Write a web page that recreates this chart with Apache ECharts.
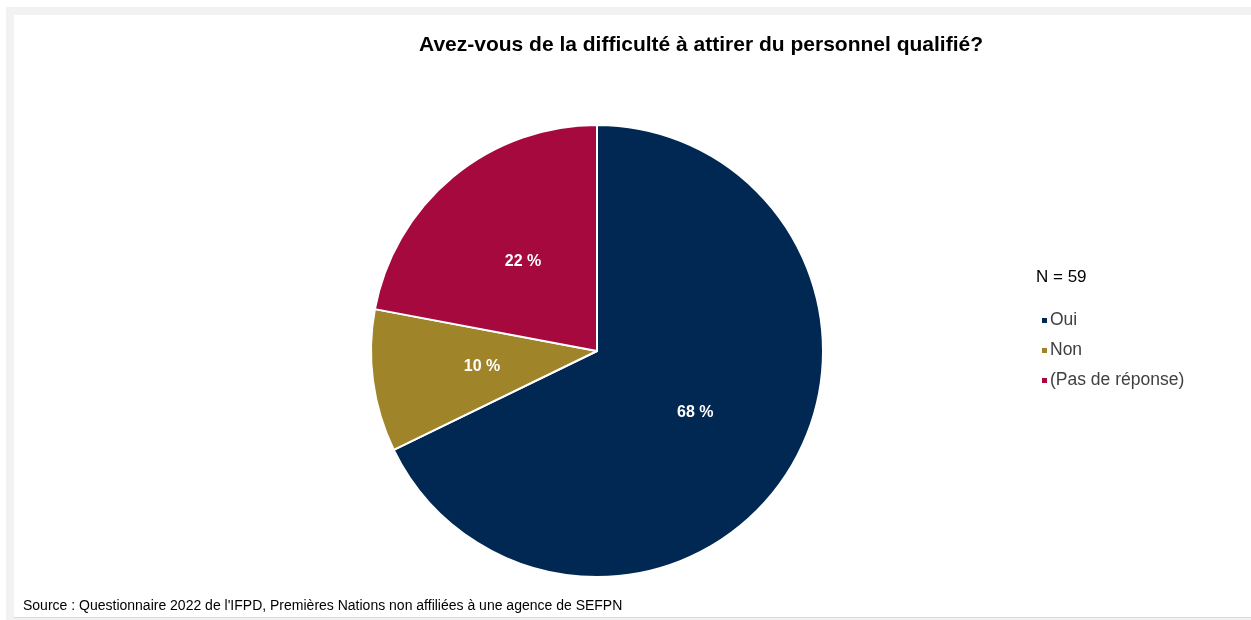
<!DOCTYPE html>
<html lang="fr">
<head>
<meta charset="utf-8">
<title>Difficulté à attirer du personnel qualifié</title>
<script src="https://cdn.jsdelivr.net/npm/echarts@6/dist/echarts.min.js"></script>
<style>
  html, body { margin: 0; padding: 0; background: #ffffff; }
  #frame {
    position: absolute; left: 6px; top: 7px; width: 1245px; height: 613px;
    background: #f2f2f2;
  }
  #chart {
    position: absolute; left: 14px; top: 15px; width: 1237px; height: 602px;
    background: #ffffff; border-bottom: 1px solid #d9d9d9;
  }
</style>
</head>
<body>
<div id="frame"></div>
<div id="chart"></div>
<script>
// Réponses au questionnaire (N = 59)
const categories = ['Oui', 'Non', '(Pas de réponse)'];
const counts = [40, 6, 13];
const colors = ['#012852', '#9F842A', '#A5093E'];
const titleText = 'Avez-vous de la difficulté à attirer du personnel qualifié?';
const sampleText = 'N = 59';
const sourceText = "Source : Questionnaire 2022 de l'IFPD, Premières Nations non affiliées à une agence de SEFPN";

const chart = echarts.init(document.getElementById('chart'));
const font = '"Liberation Sans", Arial, sans-serif';

chart.setOption({
  animation: false,
  textStyle: { fontFamily: font },
  title: [
    {
      text: titleText,
      left: 682, top: 15, textAlign: 'center',
      textStyle: { fontFamily: font, fontSize: 21, fontWeight: 'bold', color: '#000000' }
    },
    {
      text: sampleText,
      left: 1017, top: 249,
      textStyle: { fontFamily: font, fontSize: 17, fontWeight: 'normal', color: '#000000' }
    },
    {
      text: sourceText,
      left: 4, top: 579,
      textStyle: { fontFamily: font, fontSize: 14, fontWeight: 'normal', color: '#000000' }
    }
  ],
  legend: {
    orient: 'vertical',
    left: 1021, top: 291,
    icon: 'rect',
    itemWidth: 7, itemHeight: 7,
    itemGap: 11,
    textStyle: { fontFamily: font, fontSize: 17.5, color: '#404040', lineHeight: 19, padding: [0, 0, 0, -3] },
    data: categories
  },
  series: [{
    type: 'pie',
    center: [583, 336],
    radius: 226,
    startAngle: 90,
    clockwise: true,
    percentPrecision: 0,
    itemStyle: { borderColor: '#ffffff', borderWidth: 2 },
    label: {
      show: true,
      position: 'inside',
      formatter: p => p.percent + ' %',
      color: '#ffffff',
      fontFamily: font,
      fontSize: 16,
      fontWeight: 'bold'
    },
    labelLine: { show: false },
    emphasis: { disabled: true },
    data: categories.map((c, i) => ({ name: c, value: counts[i], itemStyle: { color: colors[i] } }))
  }]
});
</script>
</body>
</html>
